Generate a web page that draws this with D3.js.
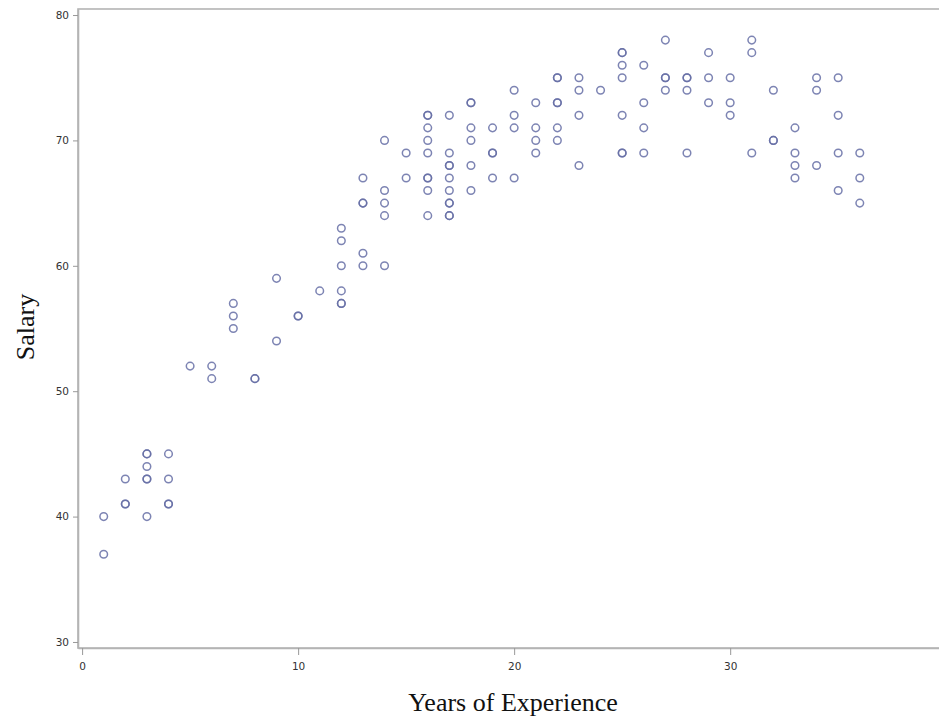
<!DOCTYPE html>
<html>
<head>
<meta charset="utf-8">
<script src="https://cdn.jsdelivr.net/npm/d3@7"></script>
<style>
  html, body { margin: 0; padding: 0; background: #fff; }
  svg { display: block; }
</style>
</head>
<body>
<script>
// Years of experience and salary (thousands) for each employee
const years = [
  1, 1,
  2, 2, 2,
  3, 3, 3, 3, 3, 3,
  4, 4, 4, 4,
  5,
  6, 6,
  7, 7, 7,
  8, 8,
  9, 9,
  10, 10,
  11,
  12, 12, 12, 12, 12, 12,
  13, 13, 13, 13, 13,
  14, 14, 14, 14, 14,
  15, 15,
  16, 16, 16, 16, 16, 16, 16, 16, 16,
  17, 17, 17, 17, 17, 17, 17, 17, 17, 17,
  18, 18, 18, 18, 18, 18,
  19, 19, 19, 19,
  20, 20, 20, 20,
  21, 21, 21, 21,
  22, 22, 22, 22, 22, 22,
  23, 23, 23, 23,
  24,
  25, 25, 25, 25, 25, 25, 25,
  26, 26, 26, 26,
  27, 27, 27, 27,
  28, 28, 28, 28,
  29, 29, 29,
  30, 30, 30,
  31, 31, 31,
  32, 32, 32,
  33, 33, 33, 33,
  34, 34, 34,
  35, 35, 35, 35,
  36, 36, 36
];
const salary = [
  40, 37,
  43, 41, 41,
  45, 45, 44, 43, 43, 40,
  45, 43, 41, 41,
  52,
  52, 51,
  57, 56, 55,
  51, 51,
  59, 54,
  56, 56,
  58,
  63, 62, 60, 58, 57, 57,
  67, 65, 65, 61, 60,
  70, 66, 65, 64, 60,
  69, 67,
  72, 72, 71, 70, 69, 67, 67, 66, 64,
  72, 69, 68, 68, 67, 66, 65, 65, 64, 64,
  73, 73, 71, 70, 68, 66,
  71, 69, 69, 67,
  74, 72, 71, 67,
  73, 71, 70, 69,
  75, 75, 73, 73, 71, 70,
  75, 74, 72, 68,
  74,
  77, 77, 76, 75, 72, 69, 69,
  76, 73, 71, 69,
  78, 75, 75, 74,
  75, 75, 74, 69,
  77, 75, 73,
  75, 73, 72,
  78, 77, 69,
  74, 70, 70,
  71, 69, 68, 67,
  75, 74, 68,
  75, 72, 69, 66,
  69, 67, 65
];
const xTicks = [0, 10, 20, 30, 40];
const yTicks = [30, 40, 50, 60, 70, 80];

const W = 939, H = 720;
const plot = { left: 78, right: 957, top: 9, bottom: 648 };

const points = years.map((y, i) => ({ x: y, s: salary[i] }));

const svg = d3.select("body").append("svg")
  .attr("width", W).attr("height", H);

const x = d3.scaleLinear().domain([-0.19, 40.5]).range([plot.left, plot.right]);
const y = d3.scaleLinear().domain([29.52, 80.48]).range([plot.bottom, plot.top]);

const frameColor = "#b4b4b4";
const tickFont = "'DejaVu Sans', Verdana, sans-serif";

// Plot frame (the right edge runs past the drawing width)
svg.append("rect")
  .attr("x", plot.left).attr("y", plot.top)
  .attr("width", plot.right - plot.left).attr("height", plot.bottom - plot.top)
  .attr("fill", "none").attr("stroke", frameColor).attr("stroke-width", 1.6);

// X axis
const gx = svg.append("g")
  .attr("transform", `translate(0,${plot.bottom})`)
  .call(d3.axisBottom(x).tickValues(xTicks).tickSize(7).tickPadding(8).tickSizeOuter(0));
gx.select(".domain").attr("stroke", frameColor).attr("stroke-width", 1.6);
gx.selectAll(".tick line").attr("stroke", "#999").attr("stroke-width", 1);
gx.selectAll(".tick text")
  .attr("font-family", tickFont).attr("font-size", 10.5).attr("fill", "#333");

// Y axis
const gy = svg.append("g")
  .attr("transform", `translate(${plot.left},0)`)
  .call(d3.axisLeft(y).tickValues(yTicks).tickSize(5).tickPadding(4).tickSizeOuter(0));
gy.select(".domain").attr("stroke", frameColor).attr("stroke-width", 1.6);
gy.selectAll(".tick line").attr("stroke", "#999").attr("stroke-width", 1);
gy.selectAll(".tick text")
  .attr("font-family", tickFont).attr("font-size", 10.5).attr("fill", "#333");

// Scatter markers
svg.append("g").selectAll("circle")
  .data(points)
  .join("circle")
  .attr("cx", d => x(d.x))
  .attr("cy", d => y(d.s))
  .attr("r", 3.8)
  .attr("fill", "none")
  .attr("stroke", "#666ea6")
  .attr("stroke-opacity", 0.85)
  .attr("stroke-width", 1.5);

// Axis titles
svg.append("text")
  .attr("x", 513).attr("y", 711)
  .attr("text-anchor", "middle")
  .attr("font-family", "'Liberation Serif', 'Times New Roman', serif")
  .attr("font-size", 26).attr("fill", "#111")
  .text("Years of Experience");

svg.append("text")
  .attr("transform", "translate(34,327) rotate(-90)")
  .attr("text-anchor", "middle")
  .attr("font-family", "'Liberation Serif', 'Times New Roman', serif")
  .attr("font-size", 26).attr("fill", "#111")
  .text("Salary");
</script>
</body>
</html>
